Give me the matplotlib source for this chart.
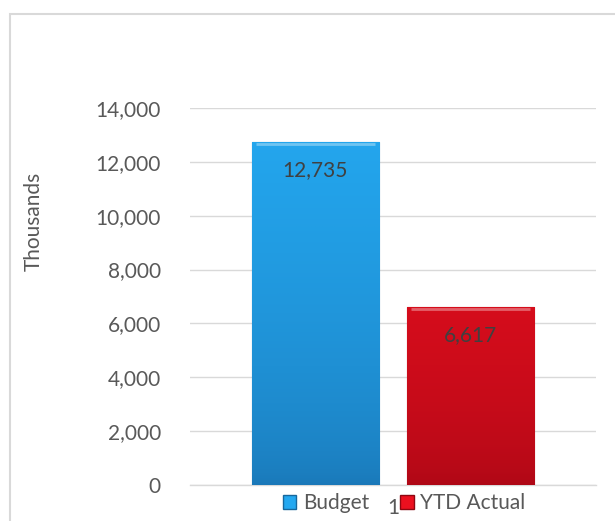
import matplotlib.pyplot as plt
import matplotlib.patches as mpatches
from matplotlib.colors import LinearSegmentedColormap
import numpy as np

plt.rcParams['font.family'] = ['Lato', 'DejaVu Sans']

series = ['Budget', 'YTD Actual']
values = [12735, 6617]
category = ['1']
yticks = [0, 2000, 4000, 6000, 8000, 10000, 12000, 14000]

top_colors = ['#24A8F0', '#EC101F']
bottom_colors = ['#1A78B8', '#AE0816']
edge_colors = ['#17679C', '#8E0711']
text_color = '#595959'

fig = plt.figure(figsize=(6.15, 5.21), dpi=100)
ax = fig.add_axes([190 / 615, 36 / 521, 406 / 615, 377 / 521])

# outer chart border (clipped at right/bottom like the source)
fig.patches.append(mpatches.Rectangle((10 / 615, -0.05), 1.1, (521 - 14) / 521 + 0.05,
                                      transform=fig.transFigure, fill=False,
                                      edgecolor='#D9D9D9', linewidth=1.5))

width = 0.313
offsets = [-0.192, 0.190]
for i, (name, v) in enumerate(zip(series, values)):
    x0 = offsets[i] - width / 2
    bar = ax.bar(offsets[i], v, width=width, color=top_colors[i],
                 edgecolor=edge_colors[i], linewidth=0.8, zorder=3)[0]
    cmap = LinearSegmentedColormap.from_list('g', [bottom_colors[i], top_colors[i]], N=256)
    grad = np.linspace(0, 1, 256).reshape(-1, 1) ** 0.6
    im = ax.imshow(grad, cmap=cmap, aspect='auto', origin='lower',
                   extent=[x0, x0 + width, 0, 14000], zorder=3.5)
    im.set_clip_path(bar)
    # bevel highlight along the top
    ax.plot([x0 + 0.01, x0 + width - 0.01], [v - 70, v - 70], color='white',
            alpha=0.35, linewidth=2, zorder=4, solid_capstyle='butt')
    ax.text(offsets[i], v - 1040, f'{v:,}', ha='center', va='center',
            fontsize=15, color='#404040', zorder=5)

ax.set_xlim(-0.5, 0.5)
ax.set_ylim(0, 14000)
ax.set_yticks(yticks)
ax.set_yticklabels([f'{t:,}' for t in yticks])
ax.set_xticks([0])
ax.set_xticklabels(category)
ax.tick_params(axis='both', length=0, labelsize=15, colors=text_color)
ax.tick_params(axis='y', pad=21)
ax.tick_params(axis='x', pad=9)
ax.yaxis.grid(True, color='#D9D9D9', linewidth=1)
ax.set_axisbelow(True)
for s in ['top', 'right', 'left']:
    ax.spines[s].set_visible(False)
ax.spines['bottom'].set_color('#D9D9D9')
ax.spines['bottom'].set_linewidth(1)
ax.set_ylabel('Thousands', fontsize=15, color=text_color)
ax.yaxis.set_label_coords(-146 / 406, 0.70)

handles = [mpatches.Patch(facecolor=top_colors[i], edgecolor=edge_colors[i], label=series[i])
           for i in range(2)]
fig.legend(handles=handles, loc='center', bbox_to_anchor=(404 / 615, 18 / 521), ncol=2,
           frameon=False, fontsize=15, handlelength=0.65, handleheight=0.65,
           handletextpad=0.3, columnspacing=1.5, labelcolor=text_color,
           borderpad=0)

fig.savefig('out.png', dpi=100)
